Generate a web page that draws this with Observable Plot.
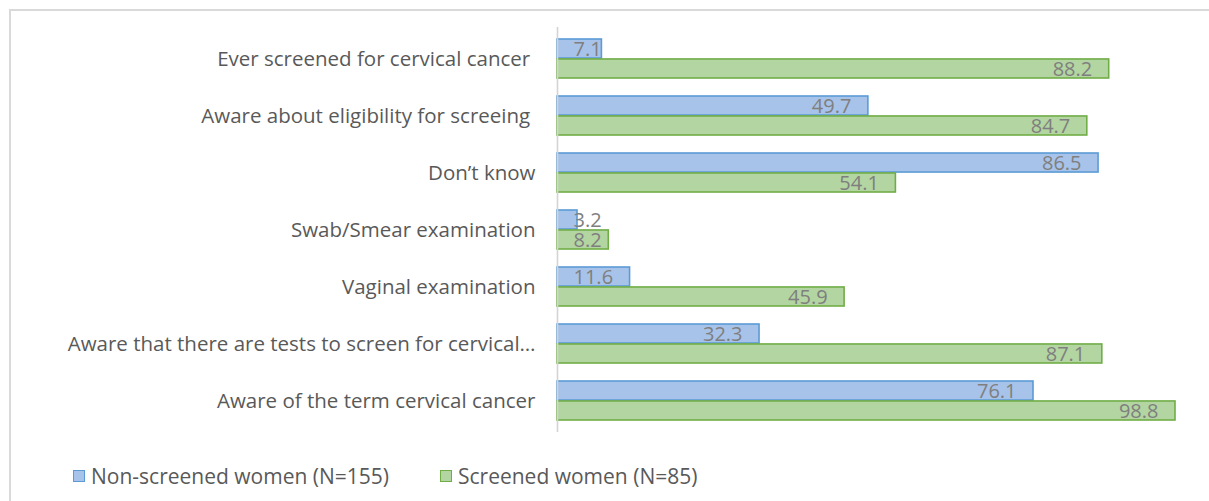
<!DOCTYPE html>
<html>
<head>
<meta charset="utf-8">
<script src="https://cdn.jsdelivr.net/npm/d3@7"></script>
<script src="https://cdn.jsdelivr.net/npm/@observablehq/plot@0.6"></script>
<style>
  html, body { margin: 0; padding: 0; background: #fff; overflow: hidden; }
  #frame { position: absolute; left: 9px; top: 9px; width: 1220px; height: 520px;
           border-left: 2px solid #d9d9d9; border-top: 2px solid #d9d9d9; box-sizing: border-box; }
  #chart { position: absolute; left: 10px; top: 10px; }
  #chart text { white-space: pre; }
  #legend { position: absolute; top: 461px; left: 0; font-family: "Open Sans", sans-serif;
            font-size: 21px; color: #595959; }
  .item { position: absolute; white-space: nowrap; display: flex; align-items: center; height: 30px; }
  .sw { width: 12px; height: 12px; margin-right: 6px; box-sizing: border-box; }
</style>
</head>
<body>
<div id="frame"></div>
<div id="chart"></div>
<div id="legend"></div>
<script>
const categories = [
  "Ever screened for cervical cancer ",
  "Aware about eligibility for screeing ",
  "Don’t know",
  "Swab/Smear examination",
  "Vaginal examination",
  "Aware that there are tests to screen for cervical…",
  "Aware of the term cervical cancer"
];
const nonScreened = [7.1, 49.7, 86.5, 3.2, 11.6, 32.3, 76.1];
const screened = [88.2, 84.7, 54.1, 8.2, 45.9, 87.1, 98.8];
const seriesNames = ["Non-screened women (N=155)", "Screened women (N=85)"];
const fills = ["#a8c3e9", "#b3d5a1"];
const strokes = ["#5b9bd5", "#70ad47"];

const W = 1199, H = 440;
const mL = 547, mR = 26.5, mT = 17, mB = 18;
const paddingInner = 0.31, paddingOuter = 0.155;
const step = (H - mT - mB) / (categories.length - paddingInner + 2 * paddingOuter);
const bw = step * (1 - paddingInner);
const half = bw / 2;
const k = (W - mL - mR) / 100;

const rows = [];
categories.forEach((c, i) => {
  rows.push({category: c, series: 0, value: nonScreened[i]});
  rows.push({category: c, series: 1, value: screened[i]});
});
const fmt = v => v.toFixed(1);
const textW = v => fmt(v).length * 10.5;
const small = d => d.value * k < textW(d.value) + 33;

const marks = [];
[0, 1].forEach(s => {
  const data = rows.filter(d => d.series === s);
  marks.push(Plot.barX(data, {
    x: "value", y: "category",
    fill: fills[s], stroke: strokes[s], strokeWidth: 1.6,
    insetTop: s === 0 ? 0 : half, insetBottom: s === 0 ? half : 0
  }));
  const dy = (s === 0 ? -half / 2 : half / 2) + 1;
  marks.push(Plot.text(data.filter(d => !small(d)), {
    x: "value", y: "category", text: d => fmt(d.value),
    textAnchor: "end", dx: -17, dy, fill: "#7f7f7f", fontSize: 20
  }));
  marks.push(Plot.text(data.filter(d => small(d)), {
    x: () => 0, y: "category", text: d => fmt(d.value),
    textAnchor: "start", dx: 16, dy, fill: "#7f7f7f", fontSize: 20
  }));
});
marks.push(Plot.ruleX([0], {stroke: "#d4d4d4", strokeWidth: 1.6}));
marks.push(Plot.axisY({tickSize: 0, tickPadding: 22, fontSize: 20.5, fill: "#595959"}));

const chart = Plot.plot({
  width: W, height: H,
  marginLeft: mL, marginRight: mR, marginTop: mT, marginBottom: mB,
  style: {fontFamily: "'Open Sans', sans-serif", background: "transparent", overflow: "visible"},
  x: {domain: [0, 100], axis: null},
  y: {domain: categories, paddingInner, paddingOuter, label: null},
  marks
});
document.getElementById("chart").appendChild(chart);

const legend = document.getElementById("legend");
const lx = [73, 440];
seriesNames.forEach((name, i) => {
  const it = document.createElement("div");
  it.className = "item";
  it.style.left = lx[i] + "px";
  const sw = document.createElement("span");
  sw.className = "sw";
  sw.style.background = fills[i];
  sw.style.border = "1.5px solid " + strokes[i];
  const t = document.createElement("span");
  t.textContent = name;
  it.appendChild(sw); it.appendChild(t);
  legend.appendChild(it);
});
</script>
</body>
</html>
